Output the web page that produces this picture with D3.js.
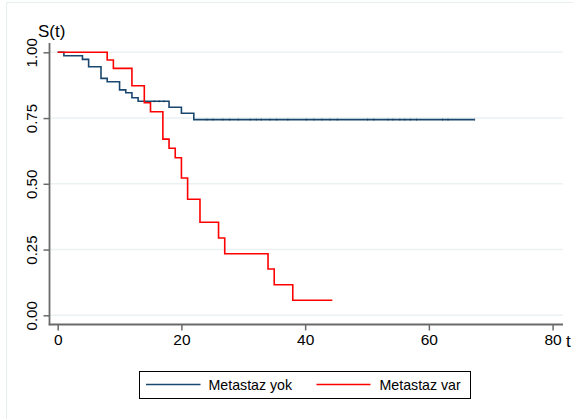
<!DOCTYPE html>
<html>
<head>
<meta charset="utf-8">
<script src="https://cdn.jsdelivr.net/npm/d3@7"></script>
<style>
  html, body { margin: 0; padding: 0; background: #fff; }
  svg { display: block; font-family: "Liberation Sans", Arial, sans-serif; }
</style>
</head>
<body>
<svg id="chart" width="573" height="419"></svg>
<script>
// ---- Data ----
const seriesNames = ["Metastaz yok", "Metastaz var"];
const seriesColors = ["#1a476f", "#ff0000"];
const yokTimes = [0, 1, 4, 5, 7, 8, 10, 11, 12, 13, 18, 20, 22, 67.4];
const yokSurv  = [1, 0.987, 0.973, 0.945, 0.901, 0.888, 0.857, 0.846, 0.827, 0.814, 0.791, 0.768, 0.744, 0.744];
const yokCensor = [15.6, 16.4, 17.2, 24.1, 25.1, 26.7, 27.8, 29.2, 31.1, 32.1, 32.9, 34.3, 35.4, 37.2, 40.2, 41.4, 42.7, 44.0, 45.2, 50.1, 51.1, 53.4, 54.2, 55.3, 56.1, 57.0, 58.0, 62.2, 63.1, 67.4];
const varTimes = [0, 8, 9, 12, 14, 15, 17, 18, 19, 20, 21, 23, 26, 27, 34, 35, 38, 44.4];
const varSurv  = [1, 0.971, 0.939, 0.873, 0.808, 0.774, 0.670, 0.635, 0.599, 0.522, 0.441, 0.354, 0.294, 0.234, 0.176, 0.116, 0.057, 0.057];
const xTicks = [0, 20, 40, 60, 80];
const yTicks = [0, 0.25, 0.5, 0.75, 1];

// ---- Layout ----
const svg = d3.select("#chart");
const x = d3.scaleLinear().domain([0, 80]).range([57.7, 552.6]);
const y = d3.scaleLinear().domain([0, 1]).range([315.3, 52.3]);
const axisLeftX = 49.5, axisBottomY = 324.5, plotRight = 563, plotTop = 43;

svg.append("rect").attr("width", 573).attr("height", 419).attr("fill", "#fff");
// faint outer border
svg.append("path").attr("d", "M6.5,419 V2.5 H573").attr("fill", "none")
  .attr("stroke", "#e6eef0").attr("stroke-width", 1);

// gridlines
svg.append("g").selectAll("line").data(yTicks).join("line")
  .attr("x1", axisLeftX).attr("x2", plotRight)
  .attr("y1", d => y(d)).attr("y2", d => y(d))
  .attr("stroke", "#eaf2f3").attr("stroke-width", 1.5);

// axes
const xAxis = svg.append("g").attr("transform", `translate(0,${axisBottomY})`)
  .call(d3.axisBottom(x).tickValues(xTicks).tickFormat(d3.format("d")).tickSize(6).tickSizeOuter(0).tickPadding(3));
const yAxis = svg.append("g").attr("transform", `translate(${axisLeftX},0)`)
  .call(d3.axisLeft(y).tickValues(yTicks).tickFormat(d3.format(".2f")).tickSize(6).tickSizeOuter(0).tickPadding(5));
[xAxis, yAxis].forEach(g => {
  g.select(".domain").remove();
  g.selectAll(".tick line").attr("stroke", "#6a6a6a").attr("stroke-width", 1.5);
  g.selectAll(".tick text").attr("fill", "#000").attr("font-family", "Liberation Sans, Arial, sans-serif");
});
xAxis.selectAll(".tick text").attr("font-size", 15.5);
yAxis.selectAll(".tick text").attr("font-size", 15)
  .attr("transform", "rotate(-90)")
  .attr("text-anchor", "middle")
  .attr("x", 0).attr("dy", 0)
  .attr("y", -12.5);

svg.append("line").attr("x1", axisLeftX).attr("x2", axisLeftX).attr("y1", plotTop).attr("y2", axisBottomY + 0.75)
  .attr("stroke", "#6a6a6a").attr("stroke-width", 1.8);
svg.append("line").attr("x1", axisLeftX - 0.75).attr("x2", plotRight).attr("y1", axisBottomY).attr("y2", axisBottomY)
  .attr("stroke", "#6a6a6a").attr("stroke-width", 1.8);

// axis titles
svg.append("text").attr("x", 38).attr("y", 37).attr("font-size", 17).attr("fill", "#000").text("S(t)");
svg.append("text").attr("x", 566).attr("y", 346.5).attr("font-size", 17).attr("fill", "#000").text("t");

// survival curves
const line = d3.line().x(d => x(d[0])).y(d => y(d[1])).curve(d3.curveStepAfter);
const series = [
  d3.zip(yokTimes, yokSurv),
  d3.zip(varTimes, varSurv)
];
svg.append("g").selectAll("path").data(series).join("path")
  .attr("d", line).attr("fill", "none")
  .attr("stroke", (d, i) => seriesColors[i]).attr("stroke-width", 1.6);

// censor ticks on the first curve (subtle)
function survAt(times, surv, t) {
  let s = surv[0];
  for (let i = 0; i < times.length; i++) if (times[i] <= t) s = surv[i];
  return s;
}
svg.append("g").selectAll("line").data(yokCensor).join("line")
  .attr("x1", d => x(d)).attr("x2", d => x(d))
  .attr("y1", d => y(survAt(yokTimes, yokSurv, d)) - 1.1)
  .attr("y2", d => y(survAt(yokTimes, yokSurv, d)) + 1.1)
  .attr("stroke", "#0d2a45").attr("stroke-width", 1).attr("opacity", 0.55);

// legend
const lg = svg.append("g");
lg.append("rect").attr("x", 139.5).attr("y", 371.5).attr("width", 331).attr("height", 27)
  .attr("fill", "#fff").attr("stroke", "#000").attr("stroke-width", 1);
const legendItems = [
  { x1: 146, x2: 200.5, tx: 208.5 },
  { x1: 316.5, x2: 370.5, tx: 379.5 }
];
legendItems.forEach((it, i) => {
  lg.append("line").attr("x1", it.x1).attr("x2", it.x2).attr("y1", 384.5).attr("y2", 384.5)
    .attr("stroke", seriesColors[i]).attr("stroke-width", 1.6);
  lg.append("text").attr("x", it.tx).attr("y", 389.5).attr("font-size", 14.2).attr("fill", "#000")
    .text(seriesNames[i]);
});
</script>
</body>
</html>
